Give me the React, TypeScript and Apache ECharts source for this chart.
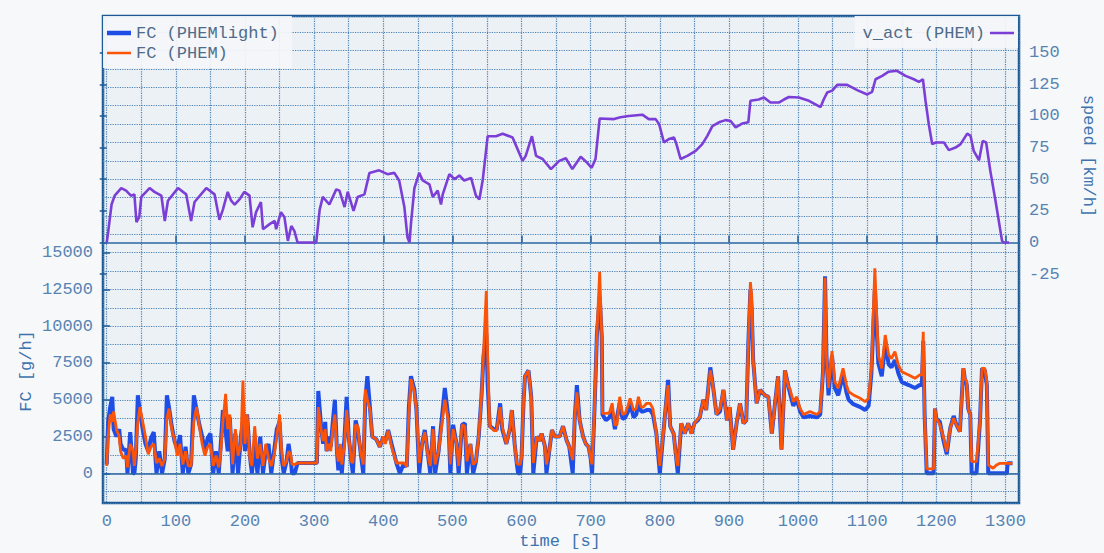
import React, { useEffect, useRef } from 'react';
import * as echarts from 'echarts';

// ---- fuel consumption (g/h) vs time (s) ----
const fcTime = [
  0, 2, 5, 8, 10, 14, 18, 20, 24, 28, 30, 34, 38, 40, 42, 45, 48, 52, 56, 60, 64, 68, 72, 76, 80, 84,
  87, 90, 94, 98, 102, 106, 110, 114, 118, 122, 126, 130, 134, 138, 142, 146, 150, 154, 158, 162, 165,
  168, 172, 175, 178, 182, 186, 190, 194, 197, 200, 203, 207, 210, 214, 218, 222, 226, 230, 234, 238, 242, 246, 250, 253, 256, 260, 263, 266, 268, 272, 276,
  304, 306, 310, 313, 316, 318, 321, 324, 327, 330, 333, 335, 338, 340, 344, 347, 350, 354, 356, 360, 363, 367, 371, 374, 377, 381, 384, 390, 395, 400,
  403, 407, 412, 419, 424, 430, 434, 437, 440, 445, 448, 452, 456, 460, 465, 468, 472, 475, 480, 489, 494, 497, 501, 506, 509,
  514, 518, 521, 526, 530, 534, 538, 542, 545, 549, 551, 554, 560, 564, 569, 572, 578, 583, 586, 590, 593, 595, 598, 600, 603, 605, 610, 614, 617,
  622, 626, 629, 634, 636, 640, 644, 648, 651, 655, 660, 665, 669, 674, 677, 680, 684, 689, 693, 697, 700, 702, 706, 709, 713, 716,
  717, 722, 727, 731, 735, 738, 742, 746, 750, 754, 757, 762, 766, 769, 773, 776, 781, 786, 790, 795, 800, 805, 809, 812, 815, 820, 824, 826,
  831, 836, 841, 846, 850, 855, 858, 863, 867, 873, 877, 882, 887, 892, 897, 901, 906, 911, 916, 921, 925, 928, 931, 933, 935,
  940, 945, 952, 957, 962, 966, 971, 976, 981, 986, 988, 993, 998, 1003, 1008, 1017, 1027, 1032, 1036, 1039, 1041, 1044,
  1049, 1053, 1058, 1065, 1070, 1073, 1080, 1090, 1097, 1102, 1106, 1111, 1116, 1121, 1126, 1131, 1135, 1140, 1145, 1150, 1160, 1169, 1176, 1179, 1181, 1183,
  1186, 1196, 1198, 1200, 1205, 1210, 1215, 1220, 1225, 1229, 1234, 1239, 1241, 1244, 1246, 1249, 1251, 1258, 1263, 1266, 1270, 1273, 1275, 1282, 1287, 1292, 1302, 1303, 1310,
];

const fcPhemlight = [
  600, 3500, 4500, 5200, 3000, 2500, 3000, 2000, 1600, 1600, 0, 2800, 0, 0, 1000, 5300, 4200, 3000, 2000, 1500, 2400, 2800, 0, 1500, 0, 1000,
  5300, 4500, 3200, 2200, 1600, 2600, 0, 1800, 0, 600, 5300, 4300, 3300, 2500, 1500, 2400, 2700, 0, 1500, 0, 2000,
  4300, 2800, 1500, 3800, 0, 2700, 0, 2500, 3500, 1500, 4000, 1200, 0, 2000, 0, 2500, 0, 1500, 2000, 0, 1500, 3000, 3500, 1000, 0, 800, 2000, 1000, 0, 0, 700,
  700, 5600, 3200, 2000, 3500, 1500, 2500, 1800, 3500, 5000, 1500, 200, 1800, 0, 2500, 5200, 2500, 700, 0, 3600, 3000, 1500, 0, 5000, 6600, 4300, 2500, 2300, 1800, 2500,
  2200, 2950, 2000, 700, 0, 700, 450, 4500, 6600, 5700, 4300, 0, 2000, 2950, 1100, 0, 3200, 0, 1500, 5800, 3850, 0, 3300, 2000, 0,
  3300, 3400, 0, 2000, 0, 800, 2500, 5200, 8000, 9500, 6000, 3200, 3000, 2950, 4760, 3000, 2000, 3000, 4300, 2000, 700, 0, 0, 1100, 5000, 6600, 7000, 5200, 0,
  2500, 2200, 2700, 1800, 0, 1500, 2950, 2500, 2500, 2500, 3200, 2270, 1800, 0, 3850, 6000, 3600, 2500, 2000, 1800, 1000, 0, 5000, 9500, 12000, 9300,
  4000, 3600, 3800, 4200, 3000, 3800, 4800, 3700, 3800, 4200, 4800, 3800, 4000, 4800, 4200, 4200, 4300, 4300, 4000, 2700, 0, 2700, 4760, 6350, 3200, 2700, 900, 0,
  3400, 2700, 3400, 2700, 3400, 3600, 3850, 5000, 4300, 7200, 5900, 4000, 4200, 5670, 3600, 4500, 1600, 3400, 4760, 3400, 3600, 8840, 12500, 11000, 7700,
  4760, 5670, 5300, 5200, 2700, 4500, 6600, 1600, 7000, 5900, 5500, 4600, 5000, 4200, 3800, 3900, 3800, 4000, 6900, 13400, 8000, 5300,
  8000, 5800, 5300, 6700, 5500, 5000, 4700, 4500, 4300, 4600, 6800, 12500, 7500, 6600, 8800, 7400, 7200, 7700, 6800, 6200, 6000, 5800, 6000, 6000, 9000, 4000,
  0, 0, 4400, 3700, 3500, 2300, 1300, 3060, 3900, 3300, 2830, 7140, 6460, 6000, 4400, 4000, 0, 0, 3500, 7140, 7000, 6000, 0, 0, 0, 0, 0, 680, 680,
];

const fcPhem = [
  500, 2500, 4000, 3500, 4200, 3000, 2500, 1500, 1000, 1200, 400, 2000, 1500, 500, 1500, 3500, 4500, 3500, 2500, 1300, 1800, 2000, 700, 1000, 500, 1000,
  3700, 4400, 3000, 2300, 1200, 2000, 600, 1500, 500, 500, 3500, 4500, 3200, 2000, 1200, 1800, 2000, 500, 1200, 400, 1500,
  3500, 5400, 3000, 4000, 600, 3000, 1200, 2000, 6300, 2000, 4000, 1000, 500, 3200, 1000, 2000, 500, 2000, 1000, 500, 1200, 2500, 4000, 1500, 500, 800, 1500, 1300, 600, 600, 700,
  700, 4500, 3000, 2200, 3000, 1500, 2000, 1500, 3000, 4000, 1500, 800, 2000, 600, 2000, 4300, 2500, 800, 700, 3300, 3200, 1500, 600, 5700, 5000, 4300, 2500, 2300, 1800, 2500,
  2000, 2900, 1800, 700, 700, 700, 450, 4000, 6400, 5500, 4300, 700, 2000, 2800, 1100, 500, 3000, 600, 1500, 5000, 3600, 600, 3000, 2000, 500,
  3300, 3200, 800, 2000, 600, 800, 2500, 5200, 8200, 12400, 8000, 3200, 2900, 2900, 4500, 3200, 2000, 3000, 4300, 2000, 700, 600, 600, 1100, 5000, 6600, 7000, 5200, 700,
  2500, 2200, 2700, 1800, 600, 1500, 2950, 2500, 2500, 2500, 3200, 2270, 1800, 900, 3850, 5500, 3600, 2500, 2000, 1800, 1000, 600, 5000, 9500, 13700, 9300,
  4080, 4080, 4100, 4760, 3300, 3300, 5200, 4000, 4080, 4600, 5100, 4300, 4400, 5200, 4500, 4500, 4760, 4760, 4400, 2700, 500, 2700, 4760, 6000, 3200, 2700, 900, 500,
  3400, 2700, 3400, 2700, 3400, 3700, 3850, 5000, 4300, 7000, 5900, 4000, 4400, 5670, 3600, 4500, 1600, 3400, 4760, 3400, 3600, 8840, 13000, 12000, 7700,
  4760, 5670, 5300, 5200, 2700, 4500, 6600, 1600, 7000, 5900, 5780, 4870, 5200, 4400, 4000, 4200, 4000, 4200, 6900, 13300, 8000, 5800,
  8300, 6230, 5780, 7140, 6000, 5550, 5330, 5100, 4870, 5100, 7140, 13940, 8050, 7140, 9400, 8050, 7800, 8270, 7370, 6900, 6690, 6460, 6690, 6690, 9630, 4000,
  300, 300, 4400, 3740, 3300, 2500, 1470, 3060, 3740, 3300, 2830, 7140, 6460, 6230, 4400, 4000, 800, 800, 3500, 7140, 7140, 6230, 570, 340, 570, 680, 680, 680, 680,
];

// ---- vehicle speed (km/h) vs time (s) ----
const speedTime = [
  0, 2, 7, 11.5, 21, 28, 35, 40, 43, 47,
  50, 62, 69, 79, 84, 88.5, 103, 115, 122, 127,
  144, 156, 163, 168, 175, 180, 185, 192, 199, 206.5,
  211, 216, 223, 226, 235.5, 243, 245, 252, 257, 262,
  267, 271.5, 276, 303, 308, 312.5, 322, 332, 336.6, 344,
  348.6, 357, 363, 372.7, 380, 394, 406, 416, 423, 430.5,
  435, 438, 440, 445, 452, 457, 466.7, 471.5, 478.7, 483.5,
  486, 495.6, 503, 510, 517, 527, 534, 539, 544, 551,
  563, 572.6, 587, 601.5, 606, 615, 621, 630.5, 642.5, 654.5,
  664, 673.5, 685.5, 695, 701.4, 707, 713, 733.7, 743, 755,
  774.7, 784, 794, 799, 806, 813, 820.5, 824, 830, 839.8,
  851.8, 861.4, 868.7, 876, 885.5, 895, 902.4, 909.6, 919, 928,
  931, 943, 950.6, 960, 972, 979.5, 986.7, 1001, 1015.7, 1032.5,
  1037, 1042, 1049.4, 1056.6, 1071, 1085.5, 1100, 1107, 1112, 1121.7,
  1131, 1143, 1155.4, 1167.5, 1174.7, 1180.5, 1184.3, 1189, 1194, 1199,
  1211, 1218, 1227.7, 1235, 1244.6, 1249.4, 1254, 1261.7, 1267, 1272,
  1278, 1285.5, 1295, 1297.6, 1305,
];

const speedValues = [
  0, 8, 30, 37, 43, 41, 37, 38, 16, 20,
  36, 43, 40, 37, 17, 33, 43, 38, 17, 32,
  43, 38, 18, 26, 40, 33, 30, 34, 40, 37,
  12, 24, 32, 10.5, 14.5, 17, 10.5, 24, 20, 1.3,
  13, 9, 0, 0, 26, 36, 30, 42, 41, 28,
  40, 25, 36, 38, 55, 57, 54, 55, 49, 28,
  4, 0, 14.5, 43, 55, 49, 46, 36, 41, 30,
  38, 54, 50, 53, 49, 51, 37, 34, 50, 84,
  84, 86, 83, 64.5, 68.5, 84, 68.5, 66, 58, 64.5,
  66.6, 58, 67.7, 63, 59, 66, 98, 97.5, 99, 100,
  101, 97.5, 97.5, 93.5, 79, 81.7, 83, 77.7, 66, 68.5,
  72.4, 77.7, 84.3, 92, 95, 96.7, 96, 91, 94, 95,
  112, 113, 114.6, 110.6, 110.6, 113, 115, 114.6, 112, 107,
  113, 118.5, 120, 124.6, 124.6, 120.4, 117, 119, 129, 131.7,
  135, 135.7, 131.7, 129, 127, 129, 112, 93.5, 77.7, 79,
  79, 73, 75, 77.7, 86, 84.3, 72.4, 65, 80.3, 79,
  56.6, 33, 1.3, 0, 0,
];

// ---- tick labels ----
const timeTicks = [0, 100, 200, 300, 400, 500, 600, 700, 800, 900, 1000, 1100, 1200, 1300];
const fcTicks = [0, 2500, 5000, 7500, 10000, 12500, 15000];
const speedTicks = [-25, 0, 25, 50, 75, 100, 125, 150];

const FONT = 'Liberation Mono';
const LABEL_COLOR = '#5684b3';
const NAME_COLOR = '#3d74ae';
const LEGEND_COLOR = '#4f6b89';
const GRID_LINE = { color: '#4a82b6', type: 'dotted' as const, width: 1.2 };

// legend line icons: invisible zero-area anchors fix the box, the bar gives the line thickness
const lineIcon = (thickness: number) => {
  const y0 = 7 - thickness / 2;
  const y1 = 7 + thickness / 2;
  return `path://M0 0L0.01 0Z M0 14L0.01 14Z M0 ${y0}L24 ${y0}L24 ${y1}L0 ${y1}Z`;
};

export default function App() {
  const ref = useRef<HTMLDivElement>(null);

  useEffect(() => {
    if (!ref.current) return;
    const chart = echarts.init(ref.current, null, { renderer: 'svg' });

    const xRange = { min: -5.4, max: 1319.5 };
    const fcRange = { min: -2020, max: 31095 };
    const speedRange = { min: -205.9, max: 179 };
    const plain = (v: number) => String(v);

    const zeroLine = (color: string) => ({
      silent: true,
      symbol: 'none',
      animation: false,
      label: { show: false },
      lineStyle: { color, width: 1.6, type: 'solid' },
      data: [{ yAxis: 0 }],
    });

    const labelStyle = {
      show: true,
      margin: 10,
      fontFamily: FONT,
      fontSize: 17,
      color: LABEL_COLOR,
      formatter: plain,
    };

    const option: any = {
      animation: false,
      backgroundColor: '#f7f8fa',
      textStyle: { fontFamily: FONT },
      grid: {
        left: 103,
        top: 16,
        width: 916,
        height: 487,
        show: true,
        backgroundColor: '#ecf1f5',
        borderColor: '#1d5a95',
        borderWidth: 2.5,
        containLabel: false,
        outerBoundsMode: 'none',
      },
      legend: [
        {
          data: [
            { name: 'FC (PHEMlight)', icon: lineIcon(4.5) },
            { name: 'FC (PHEM)', icon: lineIcon(2.6) },
          ],
          orient: 'vertical',
          left: 103,
          top: 16,
          padding: [8, 13, 6, 4],
          itemGap: 2,
          itemWidth: 24,
          itemHeight: 14,
          backgroundColor: 'rgba(244,246,248,0.92)',
          textStyle: { fontFamily: FONT, fontSize: 17, color: LEGEND_COLOR, lineHeight: 18 },
          selectedMode: false,
        },
        {
          data: [{ name: 'v_act (PHEM)', icon: lineIcon(2.6) }],
          orient: 'vertical',
          right: 86,
          top: 16,
          align: 'right',
          padding: [8, 4, 6, 8],
          itemWidth: 24,
          itemHeight: 14,
          backgroundColor: 'rgba(244,246,248,0.92)',
          textStyle: { fontFamily: FONT, fontSize: 17, color: LEGEND_COLOR, lineHeight: 18 },
          selectedMode: false,
        },
      ],
      xAxis: [
        {
          type: 'value',
          gridIndex: 0,
          position: 'bottom',
          ...xRange,
          minInterval: 50,
          maxInterval: 50,
          axisLine: { show: false },
          axisTick: { show: false },
          splitLine: { show: true, lineStyle: GRID_LINE },
          axisLabel: { ...labelStyle, customValues: timeTicks },
        },
        {
          type: 'value',
          gridIndex: 0,
          position: 'bottom',
          ...xRange,
          axisLine: { show: false },
          splitLine: { show: false },
          axisLabel: { show: false },
          axisTick: {
            show: true,
            inside: true,
            length: 7,
            customValues: timeTicks,
            lineStyle: { color: '#1d5a95', width: 1.5 },
          },
        },
      ],
      yAxis: [
        {
          type: 'value',
          gridIndex: 0,
          position: 'left',
          ...fcRange,
          minInterval: 1250,
          maxInterval: 1250,
          axisLine: { show: false },
          axisTick: { show: false },
          splitLine: { show: true, lineStyle: GRID_LINE },
          axisLabel: { ...labelStyle, customValues: fcTicks },
        },
        {
          type: 'value',
          gridIndex: 0,
          position: 'right',
          ...speedRange,
          axisLine: { show: false },
          splitLine: { show: false },
          axisTick: {
            show: true,
            inside: true,
            length: 7,
            customValues: speedTicks,
            lineStyle: { color: '#1d5a95', width: 1.5 },
          },
          axisLabel: { ...labelStyle, customValues: speedTicks },
        },
        {
          type: 'value',
          gridIndex: 0,
          position: 'left',
          ...fcRange,
          axisLine: { show: false },
          splitLine: { show: false },
          axisLabel: { show: false },
          axisTick: {
            show: true,
            inside: true,
            length: 7,
            customValues: fcTicks,
            lineStyle: { color: '#1d5a95', width: 1.5 },
          },
        },
      ],
      series: [
        {
          name: 'FC (PHEMlight)',
          type: 'line',
          xAxisIndex: 0,
          yAxisIndex: 0,
          symbol: 'none',
          color: '#1f4ee6',
          lineStyle: { color: '#1f4ee6', width: 4 },
          data: fcTime.map((t, i) => [t, fcPhemlight[i]]),
          markLine: zeroLine('#2a65a2'),
          z: 3,
        },
        {
          name: 'FC (PHEM)',
          type: 'line',
          xAxisIndex: 0,
          yAxisIndex: 0,
          symbol: 'none',
          color: '#fb5308',
          lineStyle: { color: '#fb5308', width: 2.8 },
          data: fcTime.map((t, i) => [t, fcPhem[i]]),
          z: 4,
        },
        {
          name: 'v_act (PHEM)',
          type: 'line',
          xAxisIndex: 0,
          yAxisIndex: 1,
          symbol: 'none',
          color: '#7b3fd8',
          lineStyle: { color: '#7b3fd8', width: 2.6 },
          data: speedTime.map((t, i) => [t, speedValues[i]]),
          markLine: zeroLine('#2a65a2'),
          z: 5,
        },
      ],
      graphic: [
        {
          type: 'text',
          x: 26,
          y: 371,
          rotation: Math.PI / 2,
          style: {
            text: 'FC [g/h]',
            fill: NAME_COLOR,
            fontFamily: FONT,
            fontSize: 17,
            align: 'center',
            verticalAlign: 'middle',
          },
        },
        {
          type: 'text',
          x: 1088,
          y: 156,
          rotation: -Math.PI / 2,
          style: {
            text: 'speed [km/h]',
            fill: NAME_COLOR,
            fontFamily: FONT,
            fontSize: 17,
            align: 'center',
            verticalAlign: 'middle',
          },
        },
        {
          type: 'text',
          x: 560,
          y: 541,
          style: {
            text: 'time [s]',
            fill: NAME_COLOR,
            fontFamily: FONT,
            fontSize: 17,
            align: 'center',
            verticalAlign: 'middle',
          },
        },
      ],
    };

    chart.setOption(option);
    return () => chart.dispose();
  }, []);

  return (
    <div
      ref={ref}
      style={{ position: 'fixed', left: 0, top: 0, width: 1104, height: 553 }}
    />
  );
}
